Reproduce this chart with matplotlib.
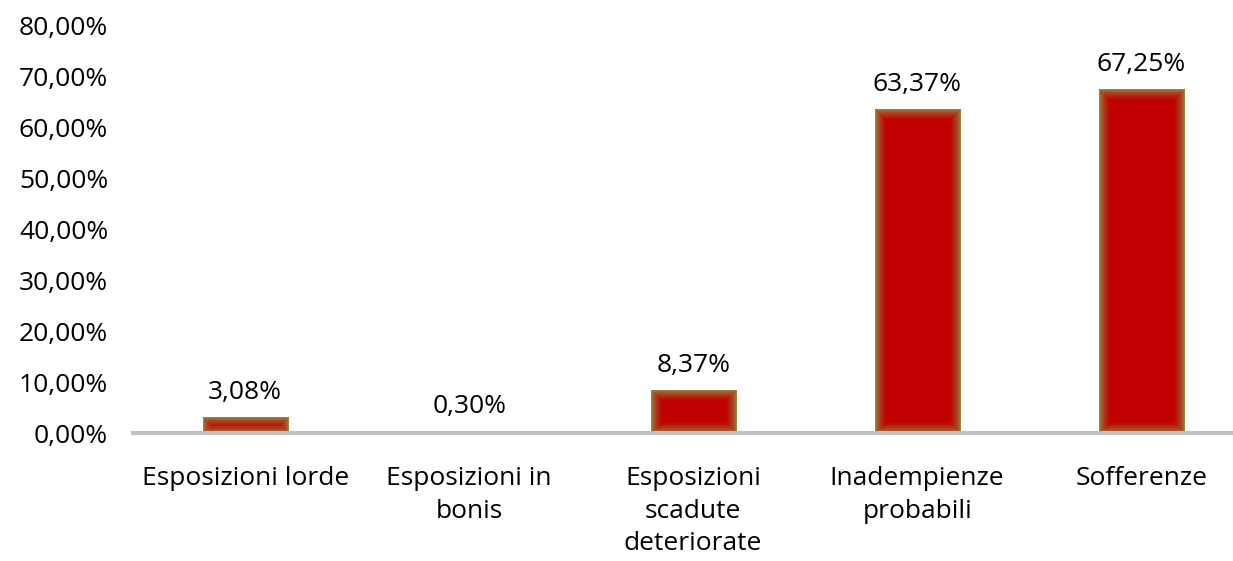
import matplotlib.pyplot as plt
import numpy as np
from matplotlib.colors import to_rgb

plt.rcParams['font.family'] = ['Open Sans', 'DejaVu Sans']

categories = ['Esposizioni lorde', 'Esposizioni in\nbonis', 'Esposizioni\nscadute\ndeteriorate',
              'Inadempienze\nprobabili', 'Sofferenze']
values = [3.08, 0.30, 8.37, 63.37, 67.25]
labels = ['3,08%', '0,30%', '8,37%', '63,37%', '67,25%']
y_ticks = [0, 10, 20, 30, 40, 50, 60, 70, 80]

RED = np.array(to_rgb('#c00000'))
EDGE = np.array(to_rgb('#8f9a4c'))
BAR_W = 0.38
FADE_PX = 11.0
FS = 19


def gradient_bar(ax, x, h, w):
    # pixel size of the bar so the soft edge has a fixed width
    p0 = ax.transData.transform((x - w / 2, 0))
    p1 = ax.transData.transform((x + w / 2, h))
    nx = max(int(round(abs(p1[0] - p0[0]))), 2)
    ny = max(int(round(abs(p1[1] - p0[1]))), 2)
    xx = np.arange(nx) + 0.5
    yy = np.arange(ny) + 0.5
    dx = np.minimum(xx, nx - xx)[None, :]
    dy = np.minimum(yy, ny - yy)[:, None]
    d = np.minimum(dx, dy)
    t = (np.clip(d / FADE_PX, 0, 1) ** 0.6)[..., None]
    img = EDGE * (1 - t) + RED * t
    ax.imshow(img, extent=(x - w / 2, x + w / 2, 0, h), aspect='auto',
              interpolation='bilinear', zorder=2)


fig = plt.figure(figsize=(12.33, 5.61), dpi=100)
ax = fig.add_axes([0.108, 0.228, 0.892, 0.7274])
xs = np.arange(len(categories))
ax.set_xlim(-0.5, 4.41)
ax.set_ylim(0, 80)

for x, v, lab in zip(xs, values, labels):
    gradient_bar(ax, x, v, BAR_W)
    ax.annotate(lab, (x, v), xytext=(0, 13.5), textcoords='offset points',
                ha='center', va='baseline', fontsize=FS, color='#000000')

ax.set_xlim(-0.5, 4.41)
ax.set_ylim(0, 80)
ax.set_yticks(y_ticks)
ax.set_yticklabels(['%d,00%%' % t for t in y_ticks], fontsize=FS)
ax.set_xticks(xs)
ax.set_xticklabels(categories, fontsize=FS, linespacing=1.38, va='top')
ax.tick_params(axis='both', length=0)
ax.tick_params(axis='x', pad=24)
ax.tick_params(axis='y', pad=18)

for s in ['top', 'right', 'left']:
    ax.spines[s].set_visible(False)
ax.spines['bottom'].set_color('#c0c0c0')
ax.spines['bottom'].set_linewidth(2.9)
ax.spines['bottom'].set_zorder(3)

fig.savefig('out.png', dpi=100)
